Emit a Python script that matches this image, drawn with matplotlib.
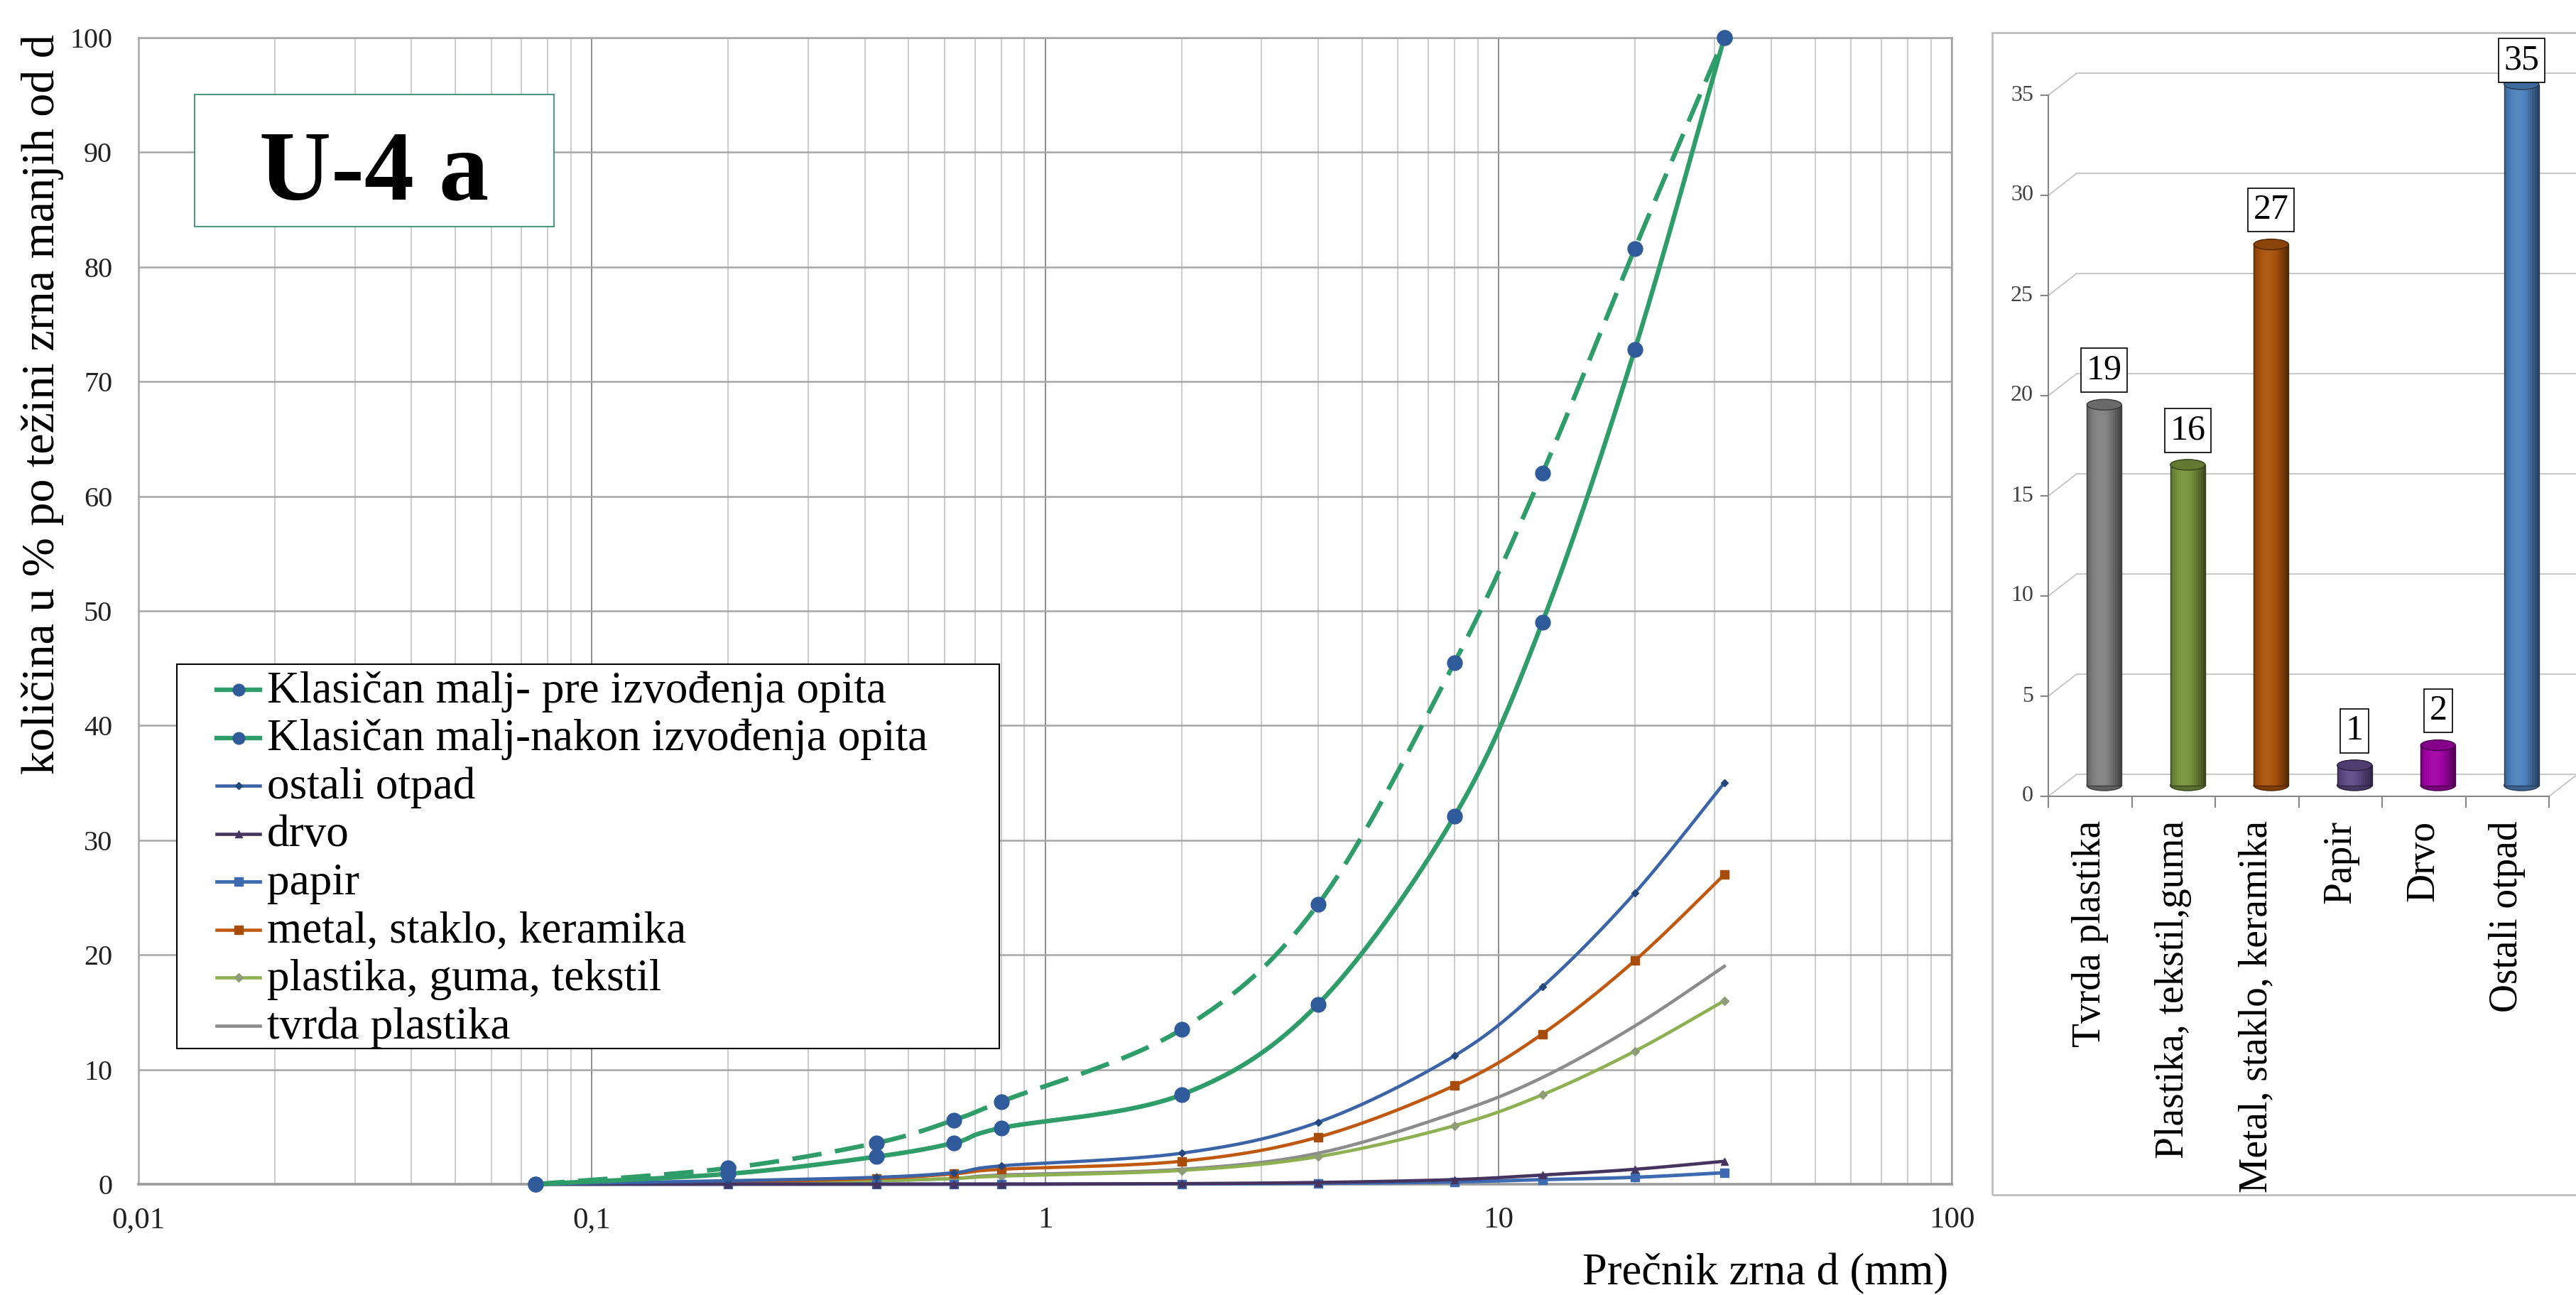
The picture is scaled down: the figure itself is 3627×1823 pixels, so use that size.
import numpy as np
import matplotlib
matplotlib.use("Agg")
import matplotlib.pyplot as plt
import matplotlib.colors as mcolors
from matplotlib.patches import Rectangle, Ellipse
from matplotlib.lines import Line2D
from matplotlib.ticker import FixedLocator, NullFormatter, LogLocator

plt.rcParams['font.family'] = ['Liberation Serif', 'DejaVu Serif']

W, H = 3627, 1823


def fx(px):
    return px / W


def fy(py):
    return 1 - py / H


# grain size distribution - sieve size (mm) and % passing
sieve_mm = [0.075, 0.2, 0.425, 0.63, 0.8, 2, 4, 8, 12.5, 20, 31.5]
pre_test = [0, 1.4, 3.6, 5.6, 7.2, 13.5, 24.4, 45.5, 62.0, 81.6, 100]
post_test = [0, 0.9, 2.4, 3.6, 4.9, 7.8, 15.7, 32.1, 49.0, 72.8, 100]
ostali_otpad = [0, 0.3, 0.6, 1.0, 1.6, 2.7, 5.4, 11.2, 17.2, 25.4, 35]
drvo = [0, 0, 0, 0, 0, 0.05, 0.15, 0.4, 0.8, 1.3, 2]
papir = [0, 0, 0, 0, 0, 0.03, 0.07, 0.2, 0.4, 0.6, 1]
metal = [0, 0.2, 0.5, 0.9, 1.3, 2.0, 4.1, 8.6, 13.1, 19.5, 27]
plastika = [0, 0.1, 0.3, 0.5, 0.7, 1.2, 2.4, 5.1, 7.8, 11.6, 16]
tvrda_plastika = [0, 0.1, 0.3, 0.5, 0.8, 1.3, 2.7, 6.2, 9.3, 13.8, 19]

x_tick_vals = [0.01, 0.1, 1, 10, 100]
x_tick_labels = ['0,01', '0,1', '1', '10', '100']

# composition (%) - bar chart on the right
bar_labels = ['Tvrda plastika', 'Plastika, tekstil,guma', 'Metal, staklo, keramika',
              'Papir', 'Drvo', 'Ostali otpad']
bar_values = [19, 16, 27, 1, 2, 35]
bar_colors = ['#808080', '#77933c', '#a9520a', '#5f4a86', '#a000a6', '#4f81bd']

green = '#2e9d6a'
dot = '#2f5b9a'


def smooth(xv, yv, n=30):
    # excel-like smoothed line (bezier through the points) in log-x space
    pts = np.column_stack([np.log10(xv), np.asarray(yv, float)])
    P = np.vstack([pts[0], pts, pts[-1]])
    out = []
    u = np.linspace(0, 1, n, endpoint=False)[:, None]
    for i in range(1, len(P) - 2):
        p0, p1, p2, p3 = P[i - 1], P[i], P[i + 1], P[i + 2]
        c1 = p1 + (p2 - p0) / 6
        c2 = p2 - (p3 - p1) / 6
        out.append((1 - u)**3 * p1 + 3 * (1 - u)**2 * u * c1 + 3 * (1 - u) * u**2 * c2 + u**3 * p2)
    out.append(pts[-1:])
    c = np.vstack(out)
    marks = list(range(0, n * (len(pts) - 1) + 1, n))
    return 10**c[:, 0], np.clip(c[:, 1], 0, None), marks


series = [
    ('Klasičan malj- pre izvođenja opita', pre_test,
     dict(color=green, lw=4.6, marker='o', ms=15, mfc=dot, mec=dot), (0, (6.5, 3))),
    ('Klasičan malj-nakon izvođenja opita', post_test,
     dict(color=green, lw=4.6, marker='o', ms=15, mfc=dot, mec=dot), '-'),
    ('ostali otpad', ostali_otpad,
     dict(color='#3b64a8', lw=3.3, marker='D', ms=5, mfc='#24477e', mec='#24477e'), '-'),
    ('drvo', drvo,
     dict(color='#45345f', lw=3.3, marker='^', ms=7, mfc='#45345f', mec='#45345f'), '-'),
    ('papir', papir,
     dict(color='#3d6ab0', lw=3.5, marker='s', ms=8, mfc='#3d6ab0', mec='#3d6ab0'), '-'),
    ('metal, staklo, keramika', metal,
     dict(color='#c0580f', lw=3.3, marker='s', ms=8, mfc='#a84c0c', mec='#a84c0c'), '-'),
    ('plastika, guma, tekstil', plastika,
     dict(color='#8db050', lw=3.3, marker='D', ms=6, mfc='#8e9c78', mec='#8e9c78'), '-'),
    ('tvrda plastika', tvrda_plastika,
     dict(color='#8c8c8c', lw=3.3, marker=None), '-'),
]

fig = plt.figure(figsize=(W / 100, H / 100), dpi=100)

# ---------------- main grain size chart ----------------
ax = fig.add_axes([fx(195), fy(1667), fx(2748) - fx(195), (1667 - 53) / H])
ax.set_xscale('log')

for name, vals, st, ls in reversed(series):
    xs, ys, marks = smooth(sieve_mm, vals)
    ax.plot(xs, ys, ls=ls, markevery=marks, clip_on=False, zorder=3, **st)

ax.set_xlim(0.01, 100)
ax.set_ylim(0, 100)
ax.xaxis.set_major_locator(FixedLocator(x_tick_vals))
ax.set_xticklabels(x_tick_labels)
ax.xaxis.set_minor_locator(LogLocator(base=10, subs=np.arange(2, 10)))
ax.xaxis.set_minor_formatter(NullFormatter())
ax.set_yticks(np.arange(0, 101, 10))
ax.grid(True, which='major', axis='y', color='#a6a6a6', lw=1.8)
ax.grid(True, which='major', axis='x', color='#8e8e8e', lw=1.4)
ax.grid(True, which='minor', axis='x', color='#c8c8c8', lw=1.3)
ax.set_axisbelow(True)
ax.tick_params(which='both', length=0)
ax.tick_params(axis='y', pad=26.5, labelsize=29, labelcolor='#222222')
ax.tick_params(axis='x', pad=23, labelsize=31, labelcolor='#222222')
for s in ax.spines.values():
    s.set_color('#a6a6a6')
    s.set_linewidth(1.8)
ax.spines['bottom'].set_color('#9a9a9a')
ax.spines['bottom'].set_linewidth(2.6)

fig.text(fx(60), fy(569), 'količina u % po težini zrna manjih od d', rotation=90,
         ha='center', va='center', fontsize=47.5)
fig.text(fx(2743), fy(1793), 'Prečnik zrna d (mm)', ha='right', va='center', fontsize=45)

# title box
ax.add_patch(Rectangle((fx(274), fy(319)), fx(780) - fx(274), (319 - 133) / H,
                       transform=fig.transFigure, fc='white', ec='#4e9a7f', lw=1.5,
                       clip_on=False, zorder=5))
ax.text(fx(527), fy(281), 'U-4 a', transform=fig.transFigure, ha='center', va='baseline',
        fontsize=101, fontweight='bold', zorder=6)

# legend box drawn by hand to keep Excel's spacing
ax.add_patch(Rectangle((fx(249), fy(1476)), fx(1407) - fx(249), (1476 - 935) / H,
                       transform=fig.transFigure, fc='white', ec='black', lw=1.5,
                       clip_on=False, zorder=5))
for i, (name, vals, st, ls) in enumerate(series):
    yc = 971 + i * 67.5
    ln = Line2D([fx(305), fx(366)], [fy(yc), fy(yc)], transform=fig.transFigure,
                color=st['color'], lw=st['lw'], zorder=6)
    ax.add_line(ln)
    if st.get('marker'):
        ms = 12 if st['ms'] > 10 else st['ms']
        ax.add_line(Line2D([fx(335.5)], [fy(yc)], transform=fig.transFigure, ls='none',
                           marker=st['marker'], ms=ms, mfc=st['mfc'], mec=st['mec'], zorder=7))
    ax.text(fx(376), fy(yc + 18), name, transform=fig.transFigure, ha='left',
            va='baseline', fontsize=45.5, zorder=7)

# ---------------- 3D-look bar chart ----------------
ax2 = fig.add_axes([fx(2884), fy(1121), fx(3589) - fx(2884), (1121 - 134) / H])
n_cat = len(bar_values)
ax2.set_xlim(0, n_cat)
ax2.set_ylim(0, 35)
ax2.axis('off')
ppx = (3589 - 2884) / n_cat
ppy = (1121 - 134) / 35
ddx, ddy = 40 / ppx, 31 / ppy  # depth offset of the back wall

fig.add_artist(Rectangle((fx(2805), fy(1682)), fx(3660) - fx(2805), (1682 - 46) / H,
                         transform=fig.transFigure, fill=False, ec='#bdbdbd', lw=2))

wall = dict(color='#c4c4c4', lw=1.3, clip_on=False, zorder=1)
for v in range(0, 36, 5):
    ax2.plot([ddx, n_cat + ddx + 0.5], [v + ddy, v + ddy], **wall)
    ax2.plot([0, ddx], [v, v + ddy], **wall)
axis_c = dict(color='#868686', lw=1.5, clip_on=False, zorder=2)
ax2.plot([0, 0], [0, 35], **axis_c)
ax2.plot([0, n_cat], [0, 0], **axis_c)
ax2.plot([n_cat, n_cat + ddx], [0, ddy], **wall)
for v in range(0, 36, 5):
    ax2.plot([-10 / ppx, 0], [v, v], **axis_c)
    ax2.text(-21 / ppx, v, str(v), ha='right', va='center', fontsize=23, color='#404040')
for k in range(n_cat + 1):
    ax2.plot([k, k], [0, -15 / ppy], **axis_c)


def shade(color, s):
    c = np.array(mcolors.to_rgb(color))
    k = 0.62 + 0.45 * np.cos(np.pi * (s - 0.4))
    if k >= 1:
        return tuple(c + (1 - c) * (k - 1) * 0.8)
    return tuple(c * k)


bw = 49 / ppx
cap_h = 15 / ppy
n_strip = 16
box_h = 70 / ppy
top_limit = 35 + (134 - 50) / ppy
for i, (v, col) in enumerate(zip(bar_values, bar_colors)):
    xc = i + 0.5 + ddx / 2
    base = ddy / 2
    dark = tuple(np.array(mcolors.to_rgb(col)) * 0.45)
    ax2.add_patch(Ellipse((xc, base), bw, cap_h, fc=shade(col, 0.8), ec=dark, lw=1,
                          zorder=3, clip_on=False))
    s = (np.arange(n_strip) + 0.5) / n_strip
    ax2.bar(xc - bw / 2 + s * bw, [v] * n_strip, width=bw / n_strip * 1.05, bottom=base,
            color=[shade(col, t) for t in s], lw=0, zorder=4, clip_on=False)
    ax2.bar(xc, v, width=bw, bottom=base, fill=False, ec=dark, lw=1, zorder=5, clip_on=False)
    ax2.add_patch(Ellipse((xc, v + base), bw, cap_h, fc=shade(col, 0.75), ec=dark, lw=1,
                          zorder=6, clip_on=False))
    y_box = v + base + cap_h / 2 + 6 / ppy + box_h / 2
    y_box = min(y_box, top_limit - box_h / 2)
    ax2.text(xc, y_box, str(v), ha='center', va='center', fontsize=36, zorder=7,
             bbox=dict(boxstyle='square,pad=0.15', fc='white', ec='black', lw=1.2))
    ax2.text(i + 0.5, -34 / ppy, bar_labels[i], rotation=90, ha='center', va='top',
             fontsize=40, clip_on=False)

fig.savefig('out.png', dpi=100)
